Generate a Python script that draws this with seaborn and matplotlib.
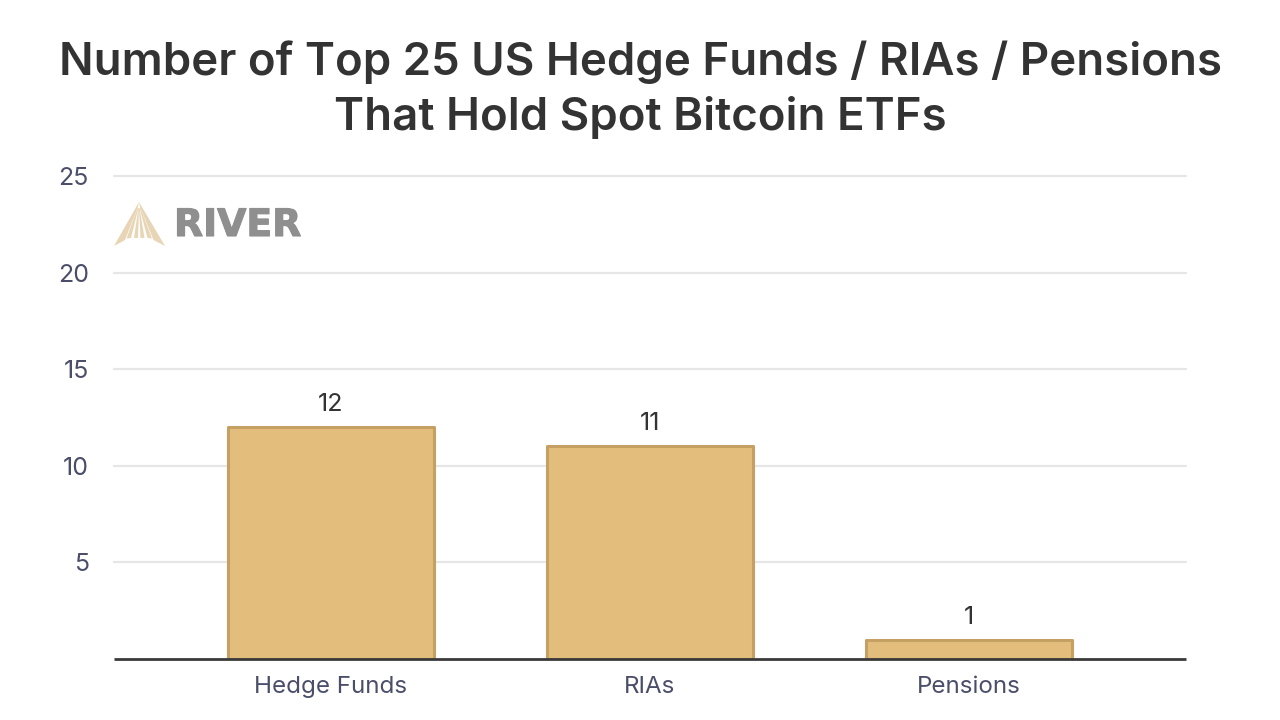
#!/usr/bin/env python3
# -*- coding: utf-8 -*-

"""
Script de visualisation des détenteurs d'ETF Bitcoin
Trace le nombre de fonds du top 25 américain par catégorie
"""

import pandas as pd
import matplotlib.pyplot as plt
import matplotlib.patheffects as pe
from matplotlib.patches import Polygon
import seaborn as sns

# Configuration de style
sns.set_theme(style="whitegrid")
plt.rcParams['figure.figsize'] = (12.8, 7.2)
plt.rcParams['font.size'] = 10
plt.rcParams['font.family'] = ['Inter', 'DejaVu Sans']

# Données
CATEGORIES = ["Hedge Funds", "RIAs", "Pensions"]
VALEURS = [12, 11, 1]
GRADUATIONS = [5, 10, 15, 20, 25]

TITRE = "Number of Top 25 US Hedge Funds / RIAs / Pensions\nThat Hold Spot Bitcoin ETFs"
OUTPUT_FILE = "out.png"

def load_data():
    """Construit le tableau des données"""
    df = pd.DataFrame({'categorie': CATEGORIES, 'nombre': VALEURS})
    return df

def draw_logo(fig):
    """Dessine le logo en filigrane (coordonnées en pixels de l'image)"""
    beige = '#e8d5b5'
    lames = [
        [(139, 202), (114, 246), (125, 240), (138, 207)],
        [(137.6, 208), (126.5, 238.5), (131, 238), (138.4, 208)],
        [(138.4, 208), (134, 238), (138, 238), (139, 208)],
        [(139, 208), (140.5, 238), (144.5, 238), (139.6, 208)],
        [(139.6, 208), (147.5, 238), (152, 238.5), (140.4, 208)],
        [(139, 202), (165, 246), (153.5, 240), (140, 207)],
    ]
    for lame in lames:
        points = [(x / 1280, 1 - y / 720) for x, y in lame]
        fig.add_artist(Polygon(points, closed=True, facecolor=beige, edgecolor='none',
                               transform=fig.transFigure))
    fig.text(174 / 1280, 1 - 226 / 720, 'RIVER', fontsize=27.2, fontweight='bold',
             family='DejaVu Sans', color='#8f8f8f', ha='left', va='center',
             path_effects=[pe.withStroke(linewidth=0.8, foreground='#8f8f8f')])

def plot_detenteurs(df):
    """Trace les barres par catégorie"""
    fig, ax = plt.subplots(figsize=(12.8, 7.2), dpi=100)
    fig.subplots_adjust(left=114 / 1280, right=1186 / 1280, top=1 - 176 / 720, bottom=1 - 659 / 720)

    sns.barplot(data=df, x='categorie', y='nombre', ax=ax, color='#e2bd7b',
                saturation=1, width=0.645, edgecolor='#c4a063', linewidth=2.2)

    # Coins arrondis des barres
    for bar in ax.patches:
        bar.set_joinstyle('round')

    ax.set_xlim(-0.68, 2.68)
    ax.set_ylim(0, 25)
    ax.set_yticks(GRADUATIONS)
    ax.set_xlabel('')
    ax.set_ylabel('')
    ax.grid(True, axis='y', color='#e6e6e6', linewidth=1.6)
    ax.grid(False, axis='x')
    ax.set_axisbelow(True)
    for ligne in ax.get_ygridlines():
        ligne.set_clip_on(False)
    ax.tick_params(axis='x', length=0, pad=12, labelsize=17.4, labelcolor='#4a4e69')
    ax.tick_params(axis='y', length=0, pad=18, labelsize=18, labelcolor='#4a4e69')

    sns.despine(ax=ax, left=True, top=True, right=True)
    ax.spines['bottom'].set_color('#3a3a3a')
    ax.spines['bottom'].set_linewidth(2)
    ax.spines['bottom'].set_capstyle('butt')

    # Annoter les barres
    for bar, val in zip(ax.patches, VALEURS):
        ax.annotate(f'{val}', (bar.get_x() + bar.get_width() / 2., bar.get_height()),
                    xytext=(0, 8), textcoords='offset points',
                    ha='center', va='bottom', fontsize=18, color='#333333')

    fig.text(640.5 / 1280, 1 - 89.5 / 720, TITRE, fontsize=32.8, fontweight='semibold',
             color='#333333', ha='center', va='center', linespacing=1.37)

    draw_logo(fig)

    plt.savefig(OUTPUT_FILE, dpi=100)
    print(f"✓ Graphique sauvegardé: {OUTPUT_FILE}")
    plt.close()

def main():
    df = load_data()
    plot_detenteurs(df)

if __name__ == "__main__":
    main()
